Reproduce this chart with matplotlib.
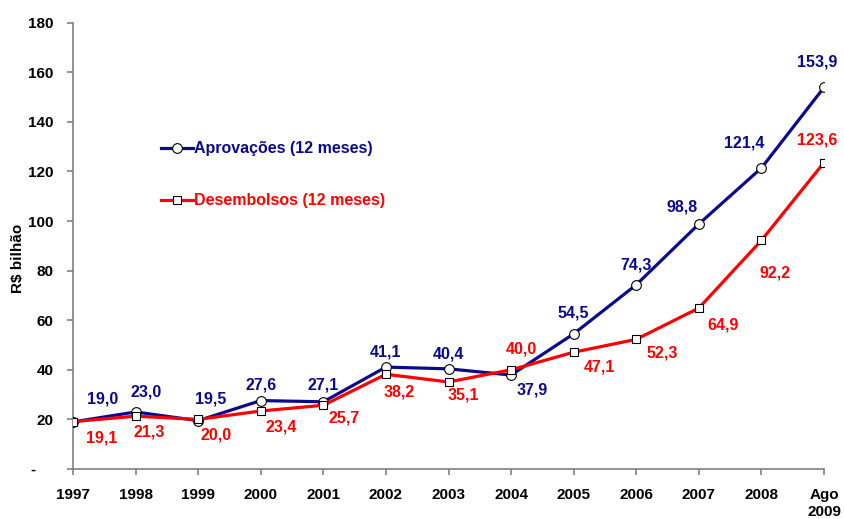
import matplotlib
matplotlib.use("Agg")
import matplotlib.pyplot as plt

categories = ["1997", "1998", "1999", "2000", "2001", "2002", "2003",
              "2004", "2005", "2006", "2007", "2008", "Ago\n2009"]
aprovacoes = [19.0, 23.0, 19.5, 27.6, 27.1, 41.1, 40.4, 37.9, 54.5, 74.3, 98.8, 121.4, 153.9]
desembolsos = [19.1, 21.3, 20.0, 23.4, 25.7, 38.2, 35.1, 40.0, 47.1, 52.3, 64.9, 92.2, 123.6]
yticks = [0, 20, 40, 60, 80, 100, 120, 140, 160, 180]
ytick_labels = ["-    ", "20", "40", "60", "80", "100", "120", "140", "160", "180"]

# label offsets in pixels (dx, dy)
px = 72 / 100
off_a = [(30, 23), (11, 20), (13, 22), (0, 16), (0, 17), (0, 15), (0, 15), (21, -15),
         (0, 21), (0, 20), (-17, 17), (-17, 25), (-7, 25)]
off_d = [(29, -16), (14, -16), (18, -16), (20, -16), (21, -13), (13, -18), (15, -13),
         (10, 21), (26, -15), (26, -14), (24, -17), (14, -33), (-7, 23)]

BLUE = "#0a0a8a"
RED = "#ff0000"
plt.rcParams["font.family"] = ["Liberation Sans", "DejaVu Sans"]
plt.rcParams["font.weight"] = "bold"

fig = plt.figure(figsize=(8.44, 5.19), dpi=100)
ax = fig.add_axes([73 / 844, 1 - 469 / 519, (824 - 73) / 844, (469 - 22.7) / 519])
x = list(range(len(categories)))

ax.plot(x, aprovacoes, color=BLUE, lw=2.3, marker="o", ms=7, mfc="white",
        mec="black", mew=0.8, label="Aprovações (12 meses)", zorder=3)
ax.plot(x, desembolsos, color=RED, lw=2.3, marker="s", ms=6, mfc="white",
        mec="black", mew=0.8, label="Desembolsos (12 meses)", zorder=3)

for i in x:
    ax.annotate(f"{aprovacoes[i]:.1f}".replace(".", ","), (x[i], aprovacoes[i]),
                xytext=(off_a[i][0] * px, off_a[i][1] * px), textcoords="offset points",
                ha="center", va="center", color=BLUE, fontsize=11.5, fontweight="bold")
    ax.annotate(f"{desembolsos[i]:.1f}".replace(".", ","), (x[i], desembolsos[i]),
                xytext=(off_d[i][0] * px, off_d[i][1] * px), textcoords="offset points",
                ha="center", va="center", color=RED, fontsize=11.5, fontweight="bold")

ax.set_xlim(0, 12)
ax.set_ylim(0, 180)
ax.set_xticks(x)
ax.set_xticklabels(categories, fontsize=11, fontweight="bold")
ax.set_yticks(yticks)
ax.set_yticklabels(ytick_labels, fontsize=11, fontweight="bold")
for s in ["top", "right"]:
    ax.spines[s].set_visible(False)
for s in ["left", "bottom"]:
    ax.spines[s].set_color("#808080")
    ax.spines[s].set_linewidth(1.2)
ax.tick_params(axis="both", colors="#808080", labelcolor="black", length=4, width=1.2)
ax.tick_params(axis="x", pad=10)
ax.tick_params(axis="y", pad=10)
ax.set_ylabel("R$ bilhão", fontsize=11, fontweight="bold")
ax.yaxis.set_label_coords(-0.064, 0.473)

leg = ax.legend(loc="upper left", bbox_to_anchor=(147 / 844, 1 - 127 / 519),
                bbox_transform=fig.transFigure, frameon=False, handlelength=2.0,
                handletextpad=0.05, labelspacing=2.3,
                prop={"size": 11.5, "weight": "bold"})
for t, c in zip(leg.get_texts(), [BLUE, RED]):
    t.set_color(c)

fig.savefig("out.png", dpi=100)
